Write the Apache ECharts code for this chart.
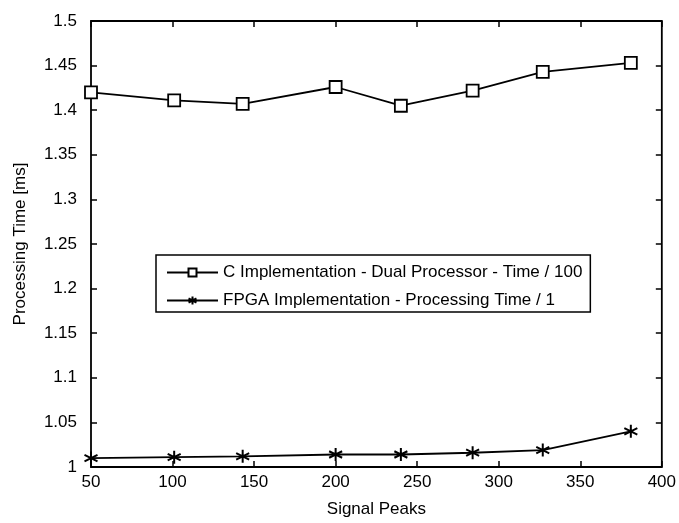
<!DOCTYPE html>
<html>
<head>
<meta charset="utf-8">
<script src="https://cdn.jsdelivr.net/npm/echarts@6/dist/echarts.min.js"></script>
<style>
  html, body { margin: 0; padding: 0; background: #fff; }
  #chart { width: 679px; height: 523px; }
</style>
</head>
<body>
<div id="chart"></div>
<script>
// x positions (signal peaks)
var peaks = [50, 101, 143, 200, 240, 284, 327, 381];
// C implementation, dual processor, time / 100
var cTime = [1.420, 1.411, 1.407, 1.426, 1.405, 1.422, 1.443, 1.453];
// FPGA implementation, processing time / 1
var fpgaTime = [1.010, 1.011, 1.012, 1.014, 1.014, 1.016, 1.019, 1.040];

var seriesNames = [
  "C Implementation - Dual Processor - Time / 100",
  "FPGA Implementation - Processing Time / 1"
];

function pairs(xs, ys) {
  return xs.map(function (x, i) { return [x, ys[i]]; });
}

// asterisk marker drawn as open strokes
var star = "path://M0,-6L0,6M-5.2,-3L5.2,3M-5.2,3L5.2,-3";

var font = "Liberation Sans, Arial, sans-serif";
var tick = { inside: true, length: 6, lineStyle: { color: "#000", width: 1.5 } };

var chart = echarts.init(document.getElementById('chart'));
chart.setOption({
  animation: false,
  backgroundColor: "#fff",
  grid: {
    left: 91, right: 16, top: 21, bottom: 52,
    show: true,
    borderColor: "#000",
    borderWidth: 1.8
  },
  legend: {
    left: 156,
    top: 255,
    orient: "vertical",
    selectedMode: false,
    backgroundColor: "#fff",
    borderColor: "#000",
    borderWidth: 1.5,
    padding: [9, 8, 3, 10],
    itemGap: 11,
    itemWidth: 51,
    itemHeight: 10,
    textStyle: { fontFamily: font, fontSize: 17, color: "#000" },
    data: seriesNames
  },
  xAxis: [{
    type: "value",
    min: 50, max: 400, interval: 50,
    name: "Signal Peaks",
    nameLocation: "middle",
    nameGap: 34,
    nameTextStyle: { fontFamily: font, fontSize: 17, color: "#000" },
    axisLine: { show: false },
    axisTick: tick,
    axisLabel: { fontFamily: font, fontSize: 17, color: "#000", margin: 7 },
    splitLine: { show: false }
  }, {
    type: "value",
    position: "top",
    min: 50, max: 400, interval: 50,
    axisLine: { show: false },
    axisTick: tick,
    axisLabel: { show: false },
    splitLine: { show: false }
  }],
  yAxis: [{
    type: "value",
    min: 1, max: 1.5, interval: 0.05,
    name: "Processing Time [ms]",
    nameLocation: "middle",
    nameGap: 62,
    nameRotate: 90,
    nameTextStyle: { fontFamily: font, fontSize: 17, color: "#000" },
    axisLine: { show: false },
    axisTick: tick,
    axisLabel: {
      fontFamily: font, fontSize: 17, color: "#000", margin: 14,
      formatter: function (v) { return String(Math.round(v * 100) / 100); }
    },
    splitLine: { show: false }
  }, {
    type: "value",
    position: "right",
    min: 1, max: 1.5, interval: 0.05,
    axisLine: { show: false },
    axisTick: tick,
    axisLabel: { show: false },
    splitLine: { show: false }
  }],
  series: [{
    name: seriesNames[0],
    type: "line",
    data: pairs(peaks, cTime),
    symbol: "rect",
    symbolSize: 12,
    showAllSymbol: true,
    lineStyle: { color: "#000", width: 1.8 },
    itemStyle: { color: "#fff", borderColor: "#000", borderWidth: 1.8 }
  }, {
    name: seriesNames[1],
    type: "line",
    data: pairs(peaks, fpgaTime),
    symbol: star,
    symbolSize: 13,
    showAllSymbol: true,
    lineStyle: { color: "#000", width: 1.8 },
    itemStyle: { color: "none", borderColor: "#000", borderWidth: 2 }
  }]
});
</script>
</body>
</html>
